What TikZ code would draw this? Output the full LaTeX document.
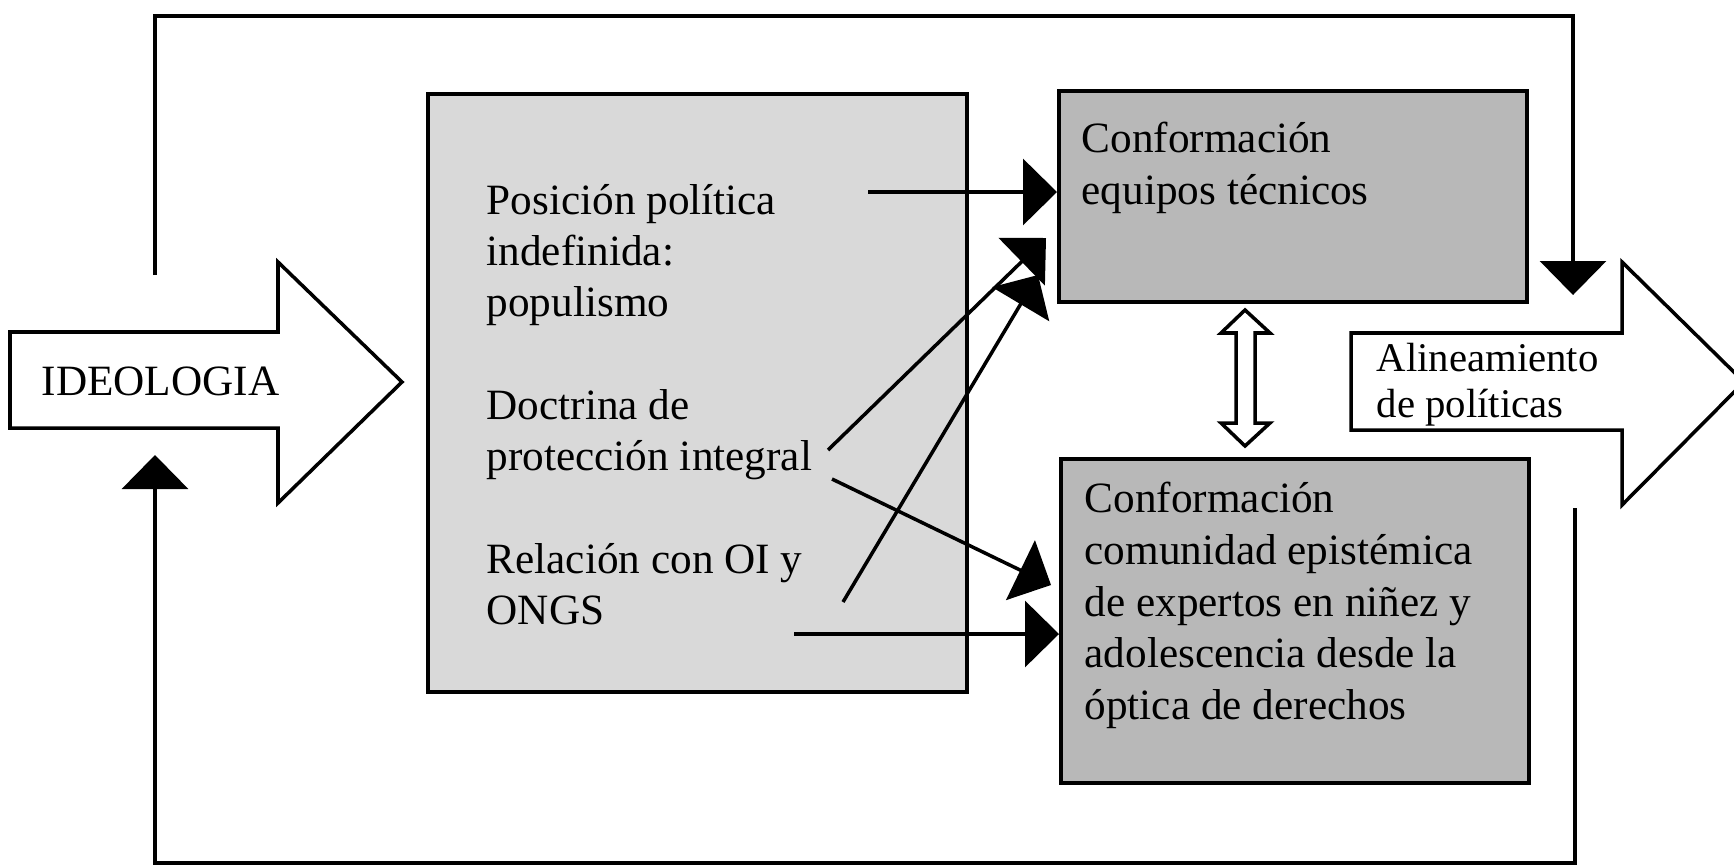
\documentclass[tikz,border=0pt]{standalone}
\usepackage{fontspec}
\setmainfont{Liberation Serif}
\usetikzlibrary{arrows.meta}
\newcommand{\tstrut}{\rule{0pt}{10pt}}
\tikzset{
	flow/.style={-{Triangle[length=3.4mm,width=6.6mm]}, line width=1pt},
	lightbox/.style={draw, line width=1.2pt, fill=black!15, inner sep=0pt, anchor=north west},
	darkbox/.style={draw, line width=1.2pt, fill=black!28, inner sep=0pt, anchor=north west},
	hollow/.style={draw, line width=1pt, fill=white, line join=miter},
	txt/.style={anchor=north west, inner sep=0pt, align=left, font=\fontsize{12.3}{14.5}\selectfont}
}
\begin{document}
\begin{tikzpicture}[x=0.1mm, y=-0.1mm]%[x=0.1mm, y=-0.1mm] pixel grid of the scan
	\useasboundingbox (0,0) rectangle (1734,865);
	\node[lightbox, minimum width=53.9mm, minimum height=59.8mm] (factores) at (426,92) {};
	\node[darkbox, minimum width=46.8mm, minimum height=21.1mm] (equipos) at (1057,89) {};
	\node[darkbox, minimum width=46.8mm, minimum height=32.4mm] (comunidad) at (1059,457) {};
	
	\node[txt] (posicion) at (486,179) {\tstrut Posición política\\indefinida:\\populismo};
	\node[txt] (doctrina) at (486,384) {\tstrut Doctrina de\\protección integral};
	\node[txt] (relacion) at (486,538) {\tstrut Relación con OI y\\ONGS};
	\node[txt, font=\fontsize{12.3}{14.6}\selectfont] (equipostxt) at (1081,117) {\tstrut Conformación\\equipos técnicos};
	\node[txt, font=\fontsize{12.3}{14.7}\selectfont] (comunidadtxt) at (1084,477) {\tstrut Conformación\\comunidad epistémica\\de expertos en niñez y\\adolescencia desde la\\óptica de derechos};
	
	\draw[hollow] (10,332) -- (278,332) -- (278,262) -- (402,382) -- (278,503) -- (278,428) -- (10,428) -- cycle;
	\node[txt, anchor=base west] (ideologia) at (41,395) {IDEOLOGIA};
	\draw[hollow] (1351,333) -- (1622,333) -- (1622,262) -- (1744,382) -- (1622,505) -- (1622,430) -- (1351,430) -- cycle;
	\node[txt, font=\fontsize{11.6}{13}\selectfont] (alineamiento) at (1376,336) {\tstrut Alineamiento\\de políticas};
	
	\draw[hollow] (1245,310) -- (1270,333) -- (1255,333) -- (1255,423) -- (1270,423) -- (1245,446)
		-- (1221,423) -- (1236,423) -- (1236,333) -- (1221,333) -- cycle;
	
	\coordinate (s1) at (868,192);
	\coordinate (s2) at (828,450);
	\coordinate (s3) at (843,602);
	\coordinate (s4) at (832,479);
	\coordinate (s5) at (794,634);
	\coordinate (t2) at (1046,238);
	\coordinate (t3) at (1038,275);
	\coordinate (t4) at (1051,585);
	\draw[flow] (s1) -- (s1 -| equipos.west);
	\foreach \a/\b in {s2/t2, s3/t3, s4/t4}
		{
		\draw[flow] (\a) -- (\b);
		}
	\draw[flow] (s5) -- (s5 -| comunidad.west);
	
	\coordinate (retro1) at (155,275);
	\coordinate (retro2) at (1573,295);
	\coordinate (retro3) at (1575,508);
	\coordinate (retro4) at (155,455);
	\draw[flow] (retro1) -- ++(0,-259) -| (retro2);
	\draw[flow] (retro3) -- ++(0,355) -| (retro4);
\end{tikzpicture}
\end{document}
